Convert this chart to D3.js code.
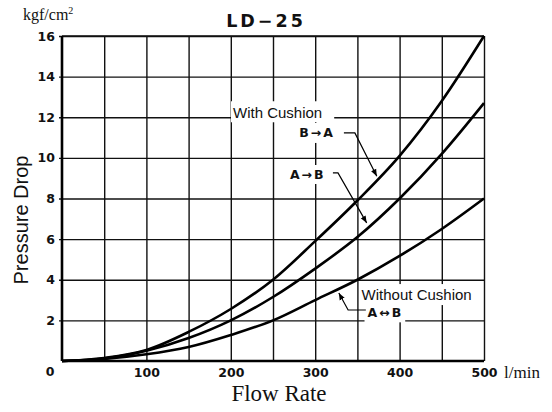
<!DOCTYPE html>
<meta charset="utf-8">
<style>
body { margin: 0; padding: 0; background: #fff; }
svg { display: block; }
.grid line { stroke: #111; stroke-width: 1.4px; }
.grid .domain { display: none; }
.tick text { font-family: "DejaVu Sans", sans-serif; font-weight: bold; font-size: 12.5px; fill: #111; }
.curve { fill: none; stroke: #000; stroke-width: 2.6px; stroke-linejoin: round; }
.leader { fill: none; stroke: #000; stroke-width: 1.2px; }
.serif { font-family: "Liberation Serif", "Times New Roman", serif; fill: #111; }
.note { font-family: "Liberation Sans", Arial, sans-serif; font-size: 15px; fill: #111; }
.dir { font-family: "DejaVu Sans", sans-serif; font-weight: bold; font-size: 12.5px; letter-spacing: 2px; fill: #111; }
</style>
<body>
<div id="chart"></div>
<script src="https://cdn.jsdelivr.net/npm/d3@7/dist/d3.min.js"></script>
<script>
// values
var flow = [0, 50, 100, 150, 200, 250, 300, 350, 400, 450, 500];
var withCushionBA = [0, 0.15, 0.54, 1.43, 2.56, 4.0, 5.9, 7.9, 10.1, 12.8, 16];
var withCushionAB = [0, 0.12, 0.5, 1.13, 2.0, 3.15, 4.55, 6.1, 8.0, 10.2, 12.7];
var withoutCushion = [0, 0.1, 0.33, 0.69, 1.28, 2.0, 3.0, 4.0, 5.17, 6.5, 8.0];

var xTicks = [100, 200, 300, 400, 500];
var yTicks = [2, 4, 6, 8, 10, 12, 14, 16];
var xGrid = [50, 100, 150, 200, 250, 300, 350, 400, 450, 500];

var W = 552, H = 412;
var margin = {left: 62, top: 36, right: 68, bottom: 51};
var w = W - margin.left - margin.right,
    h = H - margin.top - margin.bottom;

var x = d3.scaleLinear().domain([0, 500]).range([0, w]);
var y = d3.scaleLinear().domain([0, 16]).range([h, 0]);

var svg = d3.select("#chart").append("svg")
    .attr("width", W)
    .attr("height", H);

svg.append("defs").append("marker")
    .attr("id", "arrow")
    .attr("viewBox", "0 0 10 10")
    .attr("refX", 10).attr("refY", 5)
    .attr("markerWidth", 7).attr("markerHeight", 7)
    .attr("markerUnits", "userSpaceOnUse")
    .attr("orient", "auto")
  .append("path")
    .attr("d", "M0,1 L10,5 L0,9 Z")
    .attr("fill", "#000");

var g = svg.append("g")
    .attr("transform", "translate(" + margin.left + "," + margin.top + ")");

// horizontal grid + y labels
var yAxis = g.append("g")
    .attr("class", "grid")
    .call(d3.axisLeft(y).tickValues(yTicks).tickSize(-w).tickPadding(7));
yAxis.selectAll(".tick line").attr("x1", -3);

// vertical grid
g.append("g")
    .attr("class", "grid")
    .attr("transform", "translate(0," + h + ")")
    .call(d3.axisBottom(x).tickValues(xGrid).tickSize(-h).tickFormat(""));

// x labels
g.append("g")
    .attr("class", "grid")
    .attr("transform", "translate(0," + h + ")")
    .call(d3.axisBottom(x).tickValues(xTicks).tickSize(0).tickPadding(7));

g.append("text")
    .attr("x", -12).attr("y", h + 15)
    .attr("text-anchor", "middle")
    .style("font-family", "DejaVu Sans").style("font-weight", "bold").style("font-size", "12.5px")
    .attr("fill", "#111")
    .text("0");

// frame
g.append("line").attr("x1", 0).attr("x2", w).attr("y1", 0).attr("y2", 0)
    .attr("stroke", "#111").attr("stroke-width", 1.4);
g.append("line").attr("x1", 0).attr("x2", 0).attr("y1", 0).attr("y2", h)
    .attr("stroke", "#000").attr("stroke-width", 2.6);
g.append("line").attr("x1", 0).attr("x2", w).attr("y1", h).attr("y2", h)
    .attr("stroke", "#000").attr("stroke-width", 2.6);

// curves
var line = d3.line()
    .x(function(d) { return x(d[0]); })
    .y(function(d) { return y(d[1]); })
    .curve(d3.curveMonotoneX);

[withCushionBA, withCushionAB, withoutCushion].forEach(function(s) {
    g.append("path")
        .datum(flow.map(function(f, i) { return [f, s[i]]; }))
        .attr("class", "curve")
        .attr("d", line);
});

// label with a white box that hides the grid behind it
function label(cls, vx, vy, txt, pad) {
    var t = g.append("text")
        .attr("class", cls)
        .attr("x", x(vx)).attr("y", y(vy))
        .text(txt);
    var b = t.node().getBBox();
    pad = pad || [2, 2, 2, 2];
    g.insert("rect", "text." + cls)
        .attr("x", b.x - pad[3]).attr("y", b.y - pad[0])
        .attr("width", b.width + pad[1] + pad[3])
        .attr("height", b.height + pad[0] + pad[2])
        .attr("fill", "#fff");
    return t;
}

label("note", 202.6, 11.95, "With Cushion", [3, 12, 1, 2]);
label("dir", 281, 11.03, "B\u2192A", [2, 2, 3, 4]);
label("dir", 270, 8.96, "A\u2192B", [2, 1, 2, 3]);
label("note", 355, 3.0, "Without Cushion", [2, 2, 2, 2]);
label("dir", 362, 2.15, "A\u2194B", [1, 2, 2, 3]);

var leader = d3.line()
    .x(function(d) { return x(d[0]); })
    .y(function(d) { return y(d[1]); });

var leaders = [
    [[334, 11.23], [347, 11.23], [373, 9.1]],
    [[321, 9.26], [327, 9.26], [361, 6.8]],
    [[360, 2.51], [339, 2.51], [328, 3.35]]
];
leaders.forEach(function(p) {
    g.append("path")
        .attr("class", "leader")
        .attr("d", leader(p))
        .attr("marker-end", "url(#arrow)");
});

// titles
svg.append("text")
    .attr("x", 266).attr("y", 27)
    .attr("text-anchor", "middle")
    .style("font-family", "DejaVu Sans").style("font-weight", "bold")
    .style("font-size", "17.5px").style("letter-spacing", "3px")
    .attr("fill", "#111")
    .text("LD\u221225");

var unit = svg.append("text")
    .attr("class", "serif")
    .attr("x", 23).attr("y", 20)
    .style("font-size", "16px");
unit.append("tspan").text("kgf/cm");
unit.append("tspan").attr("dy", -6).style("font-size", "10px").text("2");

svg.append("text")
    .attr("class", "serif")
    .attr("x", 504).attr("y", 378)
    .style("font-size", "17px")
    .text("l/min");

svg.append("text")
    .attr("class", "serif")
    .attr("x", 279).attr("y", 401)
    .attr("text-anchor", "middle")
    .style("font-size", "23px")
    .text("Flow Rate");

svg.append("text")
    .attr("transform", "translate(28,220) rotate(-90)")
    .attr("text-anchor", "middle")
    .style("font-family", "Liberation Sans, Arial, sans-serif")
    .style("font-size", "20px")
    .attr("fill", "#111")
    .text("Pressure Drop");
</script>
</body>
